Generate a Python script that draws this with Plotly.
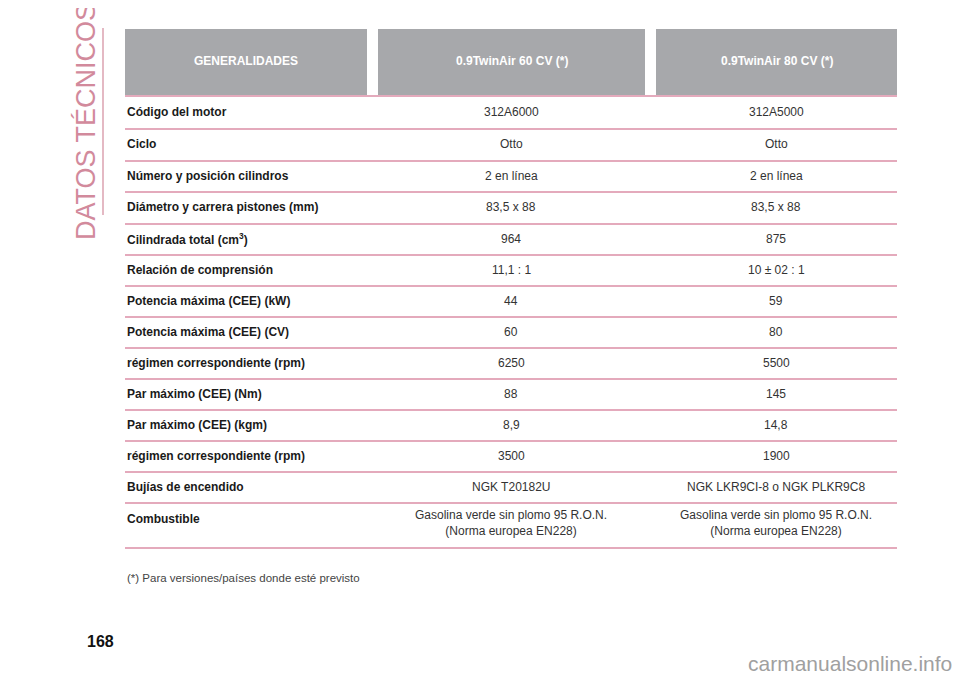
import plotly.graph_objects as go

# Table content
headers = ["GENERALIDADES", "0.9TwinAir 60 CV (*)", "0.9TwinAir 80 CV (*)"]
labels = ["Código del motor", "Ciclo", "Número y posición cilindros",
          "Diámetro y carrera pistones (mm)", "Cilindrada total (cm<sup>3</sup>)",
          "Relación de comprensión", "Potencia máxima (CEE) (kW)",
          "Potencia máxima (CEE) (CV)", "régimen correspondiente (rpm)",
          "Par máximo (CEE) (Nm)", "Par máximo (CEE) (kgm)",
          "régimen correspondiente (rpm)", "Bujías de encendido", "Combustible"]
col60 = ["312A6000", "Otto", "2 en línea", "83,5 x 88", "964", "11,1 : 1", "44", "60",
         "6250", "88", "8,9", "3500", "NGK T20182U",
         "Gasolina verde sin plomo 95 R.O.N.<br>(Norma europea EN228)"]
col80 = ["312A5000", "Otto", "2 en línea", "83,5 x 88", "875", "10 ± 02 : 1", "59", "80",
         "5500", "145", "14,8", "1900", "NGK LKR9CI-8 o NGK PLKR9C8",
         "Gasolina verde sin plomo 95 R.O.N.<br>(Norma europea EN228)"]
footnote = "(*) Para versiones/países donde esté previsto"

PINK = "#c9567a"
GREY = "#a7a8ab"
FONT = "Liberation Sans"

header_x = [(125, 367), (378, 645), (656, 897)]
row_bottoms = [129, 161, 192, 224, 255, 286, 317, 348, 379, 410, 441, 472, 503, 548]

shapes, ann = [], []
for (x0, x1), h in zip(header_x, headers):
    shapes.append(dict(type="rect", x0=x0, x1=x1, y0=29, y1=95, fillcolor=GREY, line_width=0))
    ann.append(dict(x=(x0 + x1) / 2, y=61, text="<b>%s</b>" % h, showarrow=False,
                    font=dict(color="white", size=12, family=FONT)))
for y in [96] + row_bottoms:
    shapes.append(dict(type="line", x0=125, x1=897, y0=y, y1=y, line=dict(color=PINK, width=1.2)))

top = 96
for i, (lab, a, b) in enumerate(zip(labels, col60, col80)):
    bot = row_bottoms[i]
    cy = (top + bot) / 2 - 1
    if i == len(labels) - 1:
        cy_lab, cy_val = top + 16, top + 20
    else:
        cy_lab = cy_val = cy
    ann.append(dict(x=125, y=cy_lab, xanchor="left", text="<b>%s</b>" % lab, showarrow=False,
                    font=dict(color="#1a1a1a", size=12, family=FONT)))
    for cx, v in [(511, a), (776, b)]:
        ann.append(dict(x=cx, y=cy_val, text=v, showarrow=False,
                        font=dict(color="#333333", size=12, family=FONT)))
    top = bot

ann.append(dict(x=125, y=578, xanchor="left", text=footnote, showarrow=False,
                font=dict(color="#444444", size=11.5, family=FONT)))
ann.append(dict(x=86, y=122, text="DATOS TÉCNICOS", textangle=-90, showarrow=False,
                font=dict(color="#d28a9c", size=27, family=FONT)))
shapes.append(dict(type="line", x0=103, x1=103, y0=28, y1=215, line=dict(color="#d28a9c", width=1.2)))
ann.append(dict(x=100, y=641, text="<b>168</b>", showarrow=False,
                font=dict(color="#111111", size=16, family=FONT)))
ann.append(dict(x=954, y=663, xanchor="right", text="carmanualsonline.info", showarrow=False,
                font=dict(color="#a0a0a0", size=21, family=FONT)))

# the page body adds an 8px offset, so the axis ranges are shifted to compensate
fig = go.Figure()
fig.update_layout(width=960, height=678, margin=dict(l=0, r=0, t=0, b=0),
                  paper_bgcolor="white", plot_bgcolor="white", showlegend=False,
                  xaxis=dict(range=[8, 968], visible=False, fixedrange=True),
                  yaxis=dict(range=[686, 8], visible=False, fixedrange=True),
                  shapes=shapes, annotations=ann)
fig.write_html("out.html")
